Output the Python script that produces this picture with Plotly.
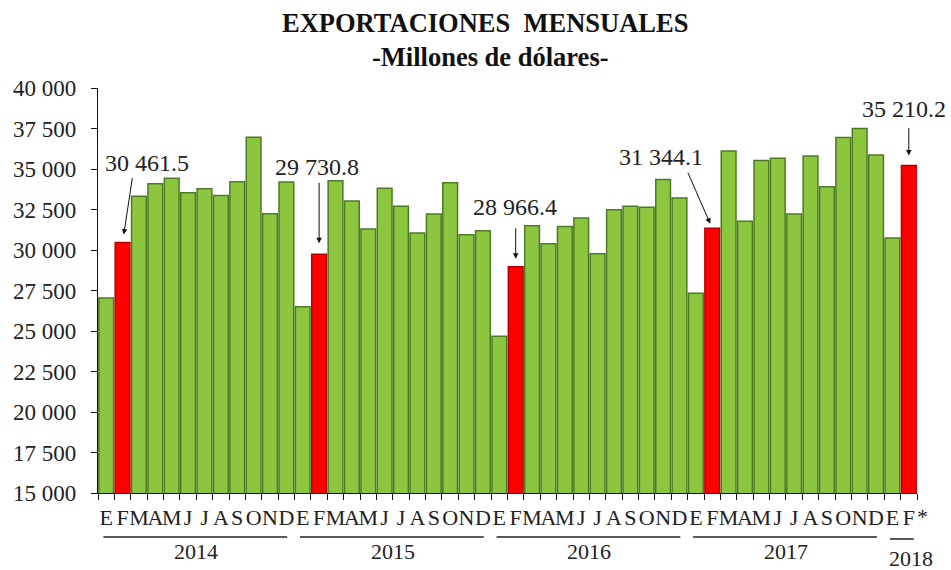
import plotly.graph_objects as go

# ---------------- data ----------------
months = ["E", "F", "M", "A", "M", "J", "J", "A", "S", "O", "N", "D"]
years = ["2014", "2015", "2016", "2017", "2018"]

exp_2014 = [27030, 30461.5, 33316, 34086, 34435, 33527, 33775, 33360, 34210, 36960, 32240, 34190]
exp_2015 = [26495, 29730.8, 34272, 33032, 31295, 33810, 32700, 31046, 32224, 34149, 30942, 31190]
exp_2016 = [24677, 28966.4, 31500, 30383, 31457, 31977, 29763, 32492, 32700, 32636, 34353, 33217]
exp_2017 = [27325, 31344.1, 36110, 31769, 35532, 35656, 32224, 35800, 33900, 36940, 37498, 35862]
exp_2018 = [30737, 35210.2]

series = [exp_2014, exp_2015, exp_2016, exp_2017, exp_2018]

ytick_vals = [15000, 17500, 20000, 22500, 25000, 27500, 30000, 32500, 35000, 37500, 40000]
ytick_text = ["15 000", "17 500", "20 000", "22 500", "25 000", "27 500",
              "30 000", "32 500", "35 000", "37 500", "40 000"]

label_texts = {"2014": "30 461.5", "2015": "29 730.8", "2016": "28 966.4",
               "2017": "31 344.1", "2018": "35 210.2"}
prelim_mark = "*"

# ---------------- build ----------------
cats, vals, letters, is_feb = [], [], [], []
groups = []
for yr, s in zip(years, series):
    start = len(cats)
    for i, v in enumerate(s):
        cats.append(f"{yr}-{i}")
        vals.append(v)
        letters.append(months[i])
        is_feb.append(i == 1)
    groups.append((yr, start, len(cats) - 1))

fill = ["#FF0000" if f else "#8CC63F" for f in is_feb]
edge = ["#B80000" if f else "#4E7A26" for f in is_feb]

SERIF = "Liberation Serif, Times New Roman, serif"

fig = go.Figure()
fig.add_trace(go.Bar(
    x=cats, y=vals,
    marker=dict(color=fill, line=dict(color=edge, width=1.5)),
    hoverinfo="x+y",
))

W, H = 951, 570
PLOT_TOP, PLOT_BOT, PLOT_L, PLOT_R = 88, 493, 98, 917
L, R, T, B = PLOT_L, W - PLOT_R, PLOT_TOP, H - PLOT_BOT
ph = PLOT_BOT - PLOT_TOP
pw = PLOT_R - PLOT_L

def py(pix):
    return (PLOT_BOT - pix) / ph

def px(pix):
    return (pix - PLOT_L) / pw

annotations = []
shapes = []

# Title
annotations.append(dict(text="<b>EXPORTACIONES  MENSUALES</b>", xref="paper", yref="paper",
                        x=px(485), y=py(23), showarrow=False,
                        font=dict(family=SERIF, size=26.5, color="#111"),
                        xanchor="center", yanchor="middle"))
annotations.append(dict(text="<b>-Millones de dólares-</b>", xref="paper", yref="paper",
                        x=px(490), y=py(57), showarrow=False,
                        font=dict(family=SERIF, size=26.5, color="#111"),
                        xanchor="center", yanchor="middle"))

# Feb value labels with arrows: (arrow ax, ay, standoff, text xshift, text yshift)
arrow_cfg = {
    "2014": (10, -66, 8, 24, 80),
    "2015": (0, -73, 11, -2, 87),
    "2016": (0, -40, 8, -1, 60),
    "2017": (-25, -57, 5, -51, 71),
    "2018": (0, -39, 10, -5, 57),
}
for yr, start, end in groups:
    idx = start + 1
    ax, ay, so, xs, ys = arrow_cfg[yr]
    annotations.append(dict(x=idx, y=vals[idx], xref="x", yref="y", text="",
                            showarrow=True, arrowhead=2, arrowsize=1.1, arrowwidth=1,
                            arrowcolor="#111", ax=ax, ay=ay, standoff=so))
    annotations.append(dict(x=idx, y=vals[idx], xref="x", yref="y", text=label_texts[yr],
                            showarrow=False, xshift=xs, yshift=ys,
                            font=dict(family=SERIF, size=24, color="#222"),
                            xanchor="center", yanchor="middle"))

# preliminary-data asterisk after the last month letter
annotations.append(dict(x=len(cats) - 1, y=py(516), xref="x", yref="paper", text=prelim_mark,
                        showarrow=False, xshift=14,
                        font=dict(family=SERIF, size=22, color="#222"),
                        xanchor="center", yanchor="middle"))

# Year labels and underlines
for yr, start, end in groups:
    full = (end - start + 1) == 12
    if full:
        x0, x1 = start - 0.5 + 0.33, end + 0.5 - 0.45
        cx, cy = (start + end) / 2, py(551)
        ly = py(537)
    else:
        x0, x1 = start - 0.15, end + 0.3
        cx, cy = end + 0.15, py(558)
        ly = py(539)
    shapes.append(dict(type="line", xref="x", yref="paper", x0=x0, x1=x1, y0=ly, y1=ly,
                       line=dict(color="#222", width=1.5)))
    annotations.append(dict(text=yr, xref="x", yref="paper", x=cx, y=cy, showarrow=False,
                            font=dict(family=SERIF, size=22, color="#222"),
                            xanchor="center", yanchor="middle"))

fig.update_layout(
    width=W, height=H,
    margin=dict(l=L, r=R, t=T, b=B, autoexpand=False),
    paper_bgcolor="white", plot_bgcolor="white",
    bargap=0.1,
    showlegend=False,
    annotations=annotations,
    shapes=shapes,
    xaxis=dict(type="category", tickmode="array", tickvals=cats, ticktext=letters,
               range=[-0.5, len(cats) - 0.5], autorange=False,
               tickson="boundaries", ticks="outside", ticklen=6, tickcolor="#111",
               showline=True, linecolor="#111", linewidth=1.2, showgrid=False,
               tickfont=dict(family=SERIF, size=22, color="#222"),
               ticklabelstandoff=4, tickangle=0, fixedrange=True, automargin=False),
    yaxis=dict(range=[15000, 40000], tickmode="array", tickvals=ytick_vals, ticktext=ytick_text,
               ticks="outside", ticklen=6, tickcolor="#111",
               showline=True, linecolor="#111", linewidth=1.2, showgrid=False, zeroline=False,
               tickfont=dict(family=SERIF, size=23, color="#222"),
               ticklabelstandoff=10, fixedrange=True, automargin=False),
)

# remove the browser's default page margin so the figure sits at the window origin
fig.write_html("out.html",
               config={"displayModeBar": False},
               post_script="document.body.style.margin='0';document.body.style.overflow='hidden';")
